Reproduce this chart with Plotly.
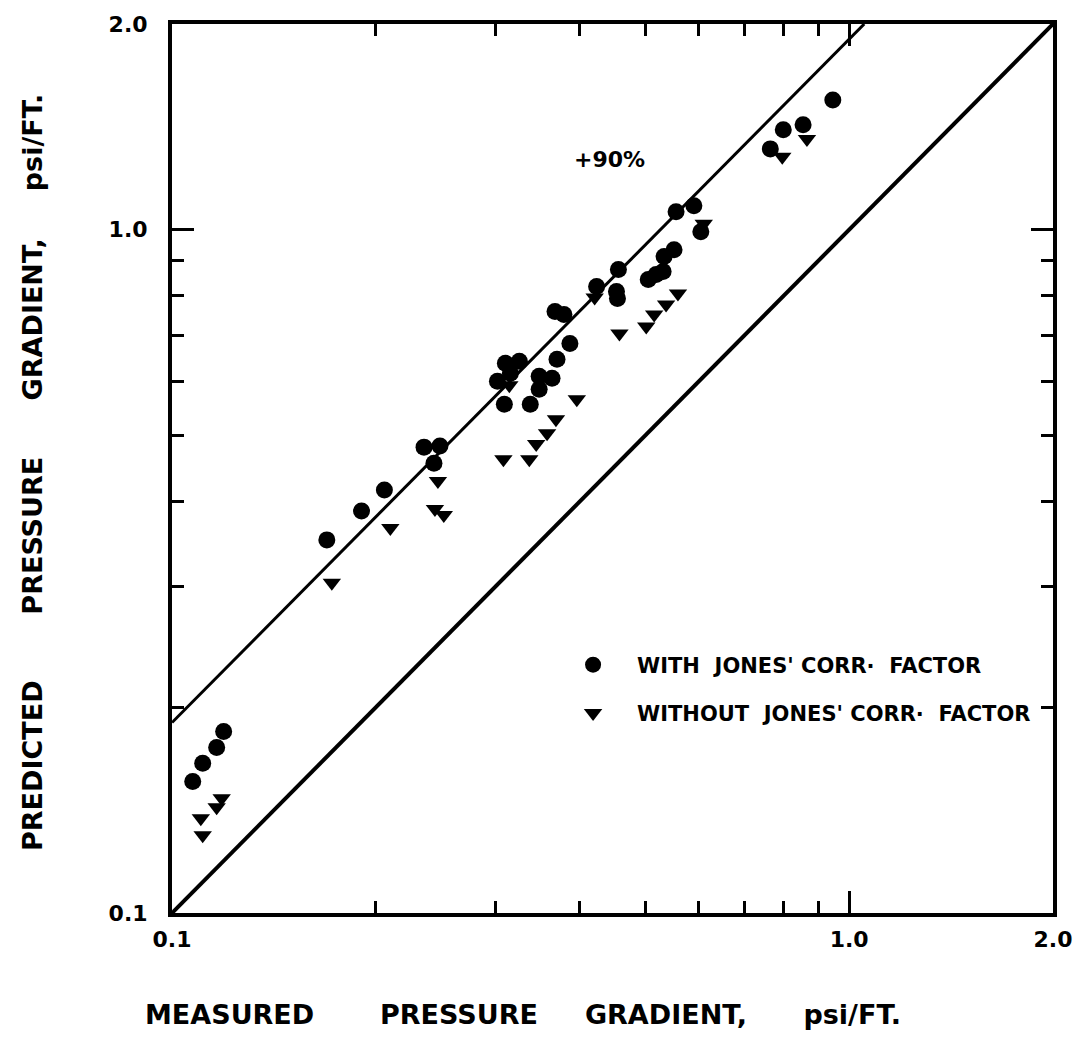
import plotly.graph_objects as go

# --- data (measured, predicted) in psi/ft ---
with_x = [0.1073, 0.1110, 0.1164, 0.1192, 0.1693, 0.1905, 0.2059, 0.2356, 0.2487, 0.2437,
          0.3024, 0.3107, 0.3258, 0.3160, 0.3096, 0.3381, 0.3485, 0.3641, 0.3485, 0.3703,
          0.3869, 0.3678, 0.3791, 0.4237, 0.4563, 0.4533, 0.4548, 0.5050, 0.5188, 0.5312,
          0.5330, 0.5513, 0.5551, 0.5898, 0.6039, 0.7649, 0.7993, 0.8550, 0.9459]
with_y = [0.1558, 0.1656, 0.1747, 0.1844, 0.3516, 0.3876, 0.4159, 0.4806, 0.4823, 0.4553,
          0.5999, 0.6375, 0.6418, 0.6164, 0.5553, 0.5553, 0.6102, 0.6061, 0.5840, 0.6461,
          0.6817, 0.7593, 0.7516, 0.8257, 0.8742, 0.8118, 0.7930, 0.8452, 0.8596, 0.8683,
          0.9133, 0.9350, 1.0624, 1.0839, 0.9933, 1.3130, 1.4000, 1.4237, 1.5480]

without_x = [0.1110, 0.1103, 0.1164, 0.1184, 0.1722, 0.2101, 0.2470, 0.2445, 0.2520, 0.3086,
             0.3370, 0.3450, 0.3580, 0.3690, 0.3961, 0.3149, 0.4579, 0.5016, 0.5153, 0.5366,
             0.5587, 0.4209, 0.6099, 0.7966, 0.8663]
without_y = [0.1300, 0.1376, 0.1428, 0.1472, 0.3042, 0.3660, 0.4287, 0.3902, 0.3824, 0.4614,
             0.4614, 0.4855, 0.5038, 0.5281, 0.5646, 0.5920, 0.7049, 0.7217, 0.7516, 0.7773,
             0.8066, 0.7957, 1.0205, 1.2790, 1.3580]

# reference lines: perfect agreement and +90 %
equal_x = [0.1, 2.0]
equal_y = [0.1, 2.0]
plus90_x = [0.1, 2.0 / 1.9]
plus90_y = [0.19, 2.0]

major_ticks = [0.1, 1.0, 2.0]
major_text = ["0.1", "1.0", "2.0"]
minor_ticks = [0.2, 0.3, 0.4, 0.5, 0.6, 0.7, 0.8, 0.9]

FONT = "DejaVu Sans"
LOG_RANGE = [-1, 0.30103]

fig = go.Figure()
fig.add_trace(go.Scatter(x=equal_x, y=equal_y, mode="lines",
                         line=dict(color="black", width=4), showlegend=False, hoverinfo="skip"))
fig.add_trace(go.Scatter(x=plus90_x, y=plus90_y, mode="lines",
                         line=dict(color="black", width=3), showlegend=False, hoverinfo="skip"))
fig.add_trace(go.Scatter(x=with_x, y=with_y, mode="markers", name="WITH  JONES' CORR·  FACTOR",
                         legendgroup="a",
                         marker=dict(symbol="circle", size=17, color="black")))
fig.add_trace(go.Scatter(x=without_x, y=without_y, mode="markers",
                         name="WITHOUT  JONES' CORR·  FACTOR", legendgroup="b",
                         marker=dict(symbol="triangle-down", size=16, color="black")))
# invisible carrier so the top / right tick axes are drawn
fig.add_trace(go.Scatter(x=equal_x, y=equal_y, mode="lines", xaxis="x2", yaxis="y2",
                         line=dict(color="rgba(0,0,0,0)", width=0), showlegend=False,
                         hoverinfo="skip"))

tick_style = dict(
    type="log", range=LOG_RANGE, showgrid=False, zeroline=False,
    ticks="inside", ticklen=22, tickwidth=3, tickcolor="black",
    tickvals=major_ticks, ticktext=major_text,
    tickfont=dict(family=FONT, size=22, color="black", weight="bold"),
    minor=dict(tickvals=minor_ticks, ticks="inside", ticklen=12, tickwidth=3,
               tickcolor="black", showgrid=False),
)

fig.update_layout(
    width=1084, height=1044,
    margin=dict(l=172, r=24, t=22, b=131),
    paper_bgcolor="white", plot_bgcolor="white",
    font=dict(family=FONT, color="black"),
    xaxis=dict(tick_style, showline=True, linewidth=4, linecolor="black", mirror=True,
               ticklabelstandoff=4),
    yaxis=dict(tick_style, showline=True, linewidth=4, linecolor="black", mirror=True,
               ticklabelstandoff=16),
    xaxis2=dict(tick_style, overlaying="x", side="top", anchor="y2", showticklabels=False,
                showline=True, linewidth=4, linecolor="black"),
    yaxis2=dict(tick_style, overlaying="y", side="right", anchor="x2", showticklabels=False,
                showline=True, linewidth=4, linecolor="black"),
    legend=dict(x=0.428, y=0.302, xanchor="left", yanchor="top",
                bgcolor="rgba(0,0,0,0)", borderwidth=0,
                font=dict(family=FONT, size=21, weight="bold"),
                tracegroupgap=18, itemsizing="trace", itemwidth=78),
    annotations=[
        dict(text="+90%", x=0.497, y=0.848, xref="x domain", yref="y domain",
             xanchor="center", yanchor="middle",
             showarrow=False, font=dict(family=FONT, size=22, weight="bold")),
        dict(text="MEASURED       PRESSURE     GRADIENT,      psi/FT.",
             x=0.398, y=-0.1145, xref="paper", yref="paper", xanchor="center", yanchor="middle",
             showarrow=False, font=dict(family=FONT, size=27, weight="bold")),
        dict(text="PREDICTED       PRESSURE      GRADIENT,     psi/FT.",
             x=-0.1577, y=0.495, xref="paper", yref="paper", xanchor="center", yanchor="middle",
             textangle=-90, showarrow=False, font=dict(family=FONT, size=27, weight="bold")),
    ],
)

fig.write_html("out.html")
